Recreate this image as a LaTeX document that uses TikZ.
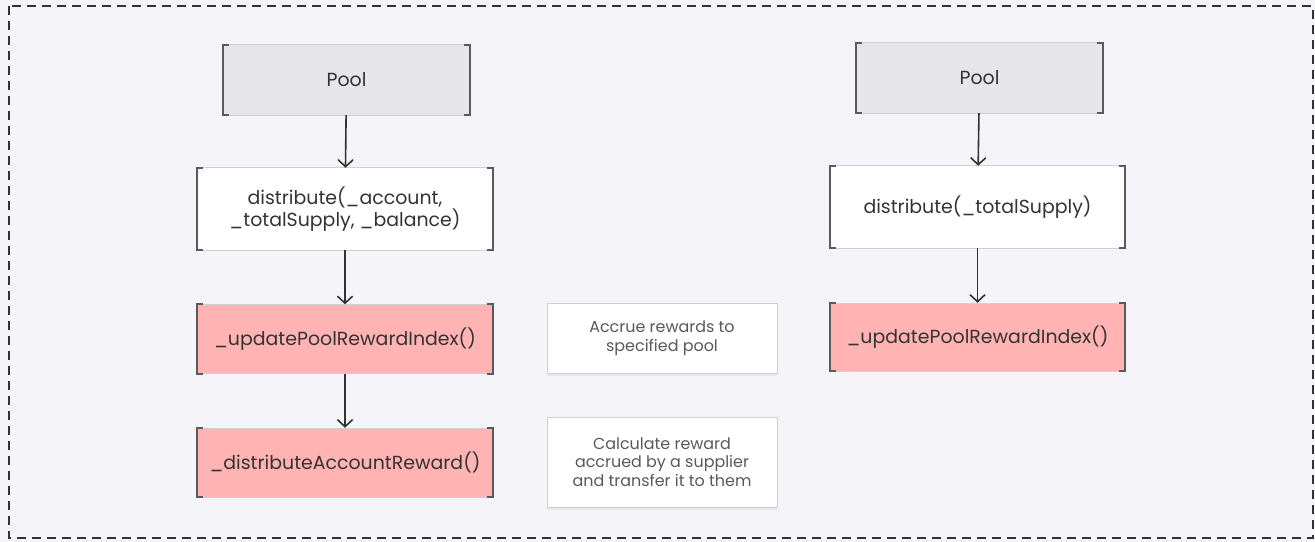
\documentclass[tikz,border=0pt]{standalone}
\usepackage{fontspec}
\setmainfont{Poppins}
\usetikzlibrary{arrows.meta,shadows}
\definecolor{canvas}{HTML}{F5F5F9}
\definecolor{poolgrey}{HTML}{E6E6EA}
\definecolor{hotpink}{HTML}{FFB3B3}
\definecolor{ink}{HTML}{333333}
\definecolor{bracketink}{HTML}{5A5A5E}
\definecolor{edgegrey}{HTML}{CFCFD4}
\tikzset{
  box/.style={minimum width=#1, inner sep=0pt, align=center, font=\fontsize{19}{22}\selectfont, text=ink},
  poolbox/.style={box=247bp, fill=poolgrey, minimum height=70bp},
  callbox/.style={box=296bp, fill=white, minimum height=82bp},
  hotbox/.style={box=296bp, fill=hotpink, minimum height=69bp},
  notebox/.style={minimum width=230bp, inner sep=0pt, align=center, fill=white, draw=edgegrey, line width=0.6bp,
    font=\fontsize{16}{18.5}\selectfont, text=black!65,
    drop shadow={shadow xshift=0bp, shadow yshift=-3bp, fill=black, opacity=0.05}},
  bracketline/.style={draw=bracketink, line width=1.7bp},
  edgeline/.style={draw=edgegrey, line width=0.6bp},
  flow/.style={draw=ink, line width=1.6bp, -{Straight Barb[length=7bp,width=15bp,line width=1.6bp]}},
}
\begin{document}
\begin{tikzpicture}[x=1bp,y=-1bp]
  % canvas and dashed frame
  \fill[canvas] (0,0) rectangle (1315,542);
  \useasboundingbox (0,0) rectangle (1315,542);
  \draw[black!80, line width=1.3bp, dash pattern=on 9bp off 6bp] (9,6) rectangle (1313,538);

  % left flow
  \node[poolbox] (lpool) at (346.5,80) {Pool};
  \node[callbox] (ldist) at (345,209) {distribute(\_account,\\\_totalSupply, \_balance)};
  \node[hotbox] (lupd) at (345,339) {\_updatePoolRewardIndex()};
  \node[hotbox] (lacc) at (345,462.5) {\_distributeAccountReward()};

  % right flow
  \node[poolbox] (rpool) at (979.5,78) {Pool};
  \node[callbox, minimum width=295bp] (rdist) at (977.5,207) {distribute(\_totalSupply)};
  \node[hotbox, minimum width=295bp, minimum height=68bp] (rupd) at (977.5,337) {\_updatePoolRewardIndex()};

  % notes
  \node[notebox, minimum height=70bp] (naccrue) at (662,338) {Accrue rewards to\\specified pool};
  \node[notebox, minimum height=90bp] (ncalc) at (662,462) {Calculate reward\\accrued by a supplier\\and transfer it to them};

  % thin top/bottom edges and bracket sides
  \foreach \n in {lpool,ldist,lupd,lacc,rpool,rdist,rupd}{
    \draw[edgeline] (\n.north west) -- (\n.north east);
    \draw[edgeline] (\n.south west) -- (\n.south east);
    \draw[bracketline] ([xshift=6bp]\n.north west) -- (\n.north west) -- (\n.south west) -- ([xshift=6bp]\n.south west);
    \draw[bracketline] ([xshift=-6bp]\n.north east) -- (\n.north east) -- (\n.south east) -- ([xshift=-6bp]\n.south east);
  }

  % connectors
  \draw[flow] (lpool) -- (ldist);
  \draw[flow] (ldist) -- (lupd);
  \draw[flow] (lupd) -- (lacc);
  \draw[flow] (rpool) -- (rdist);
  \draw[flow] (rdist) -- (rupd);
\end{tikzpicture}
\end{document}
